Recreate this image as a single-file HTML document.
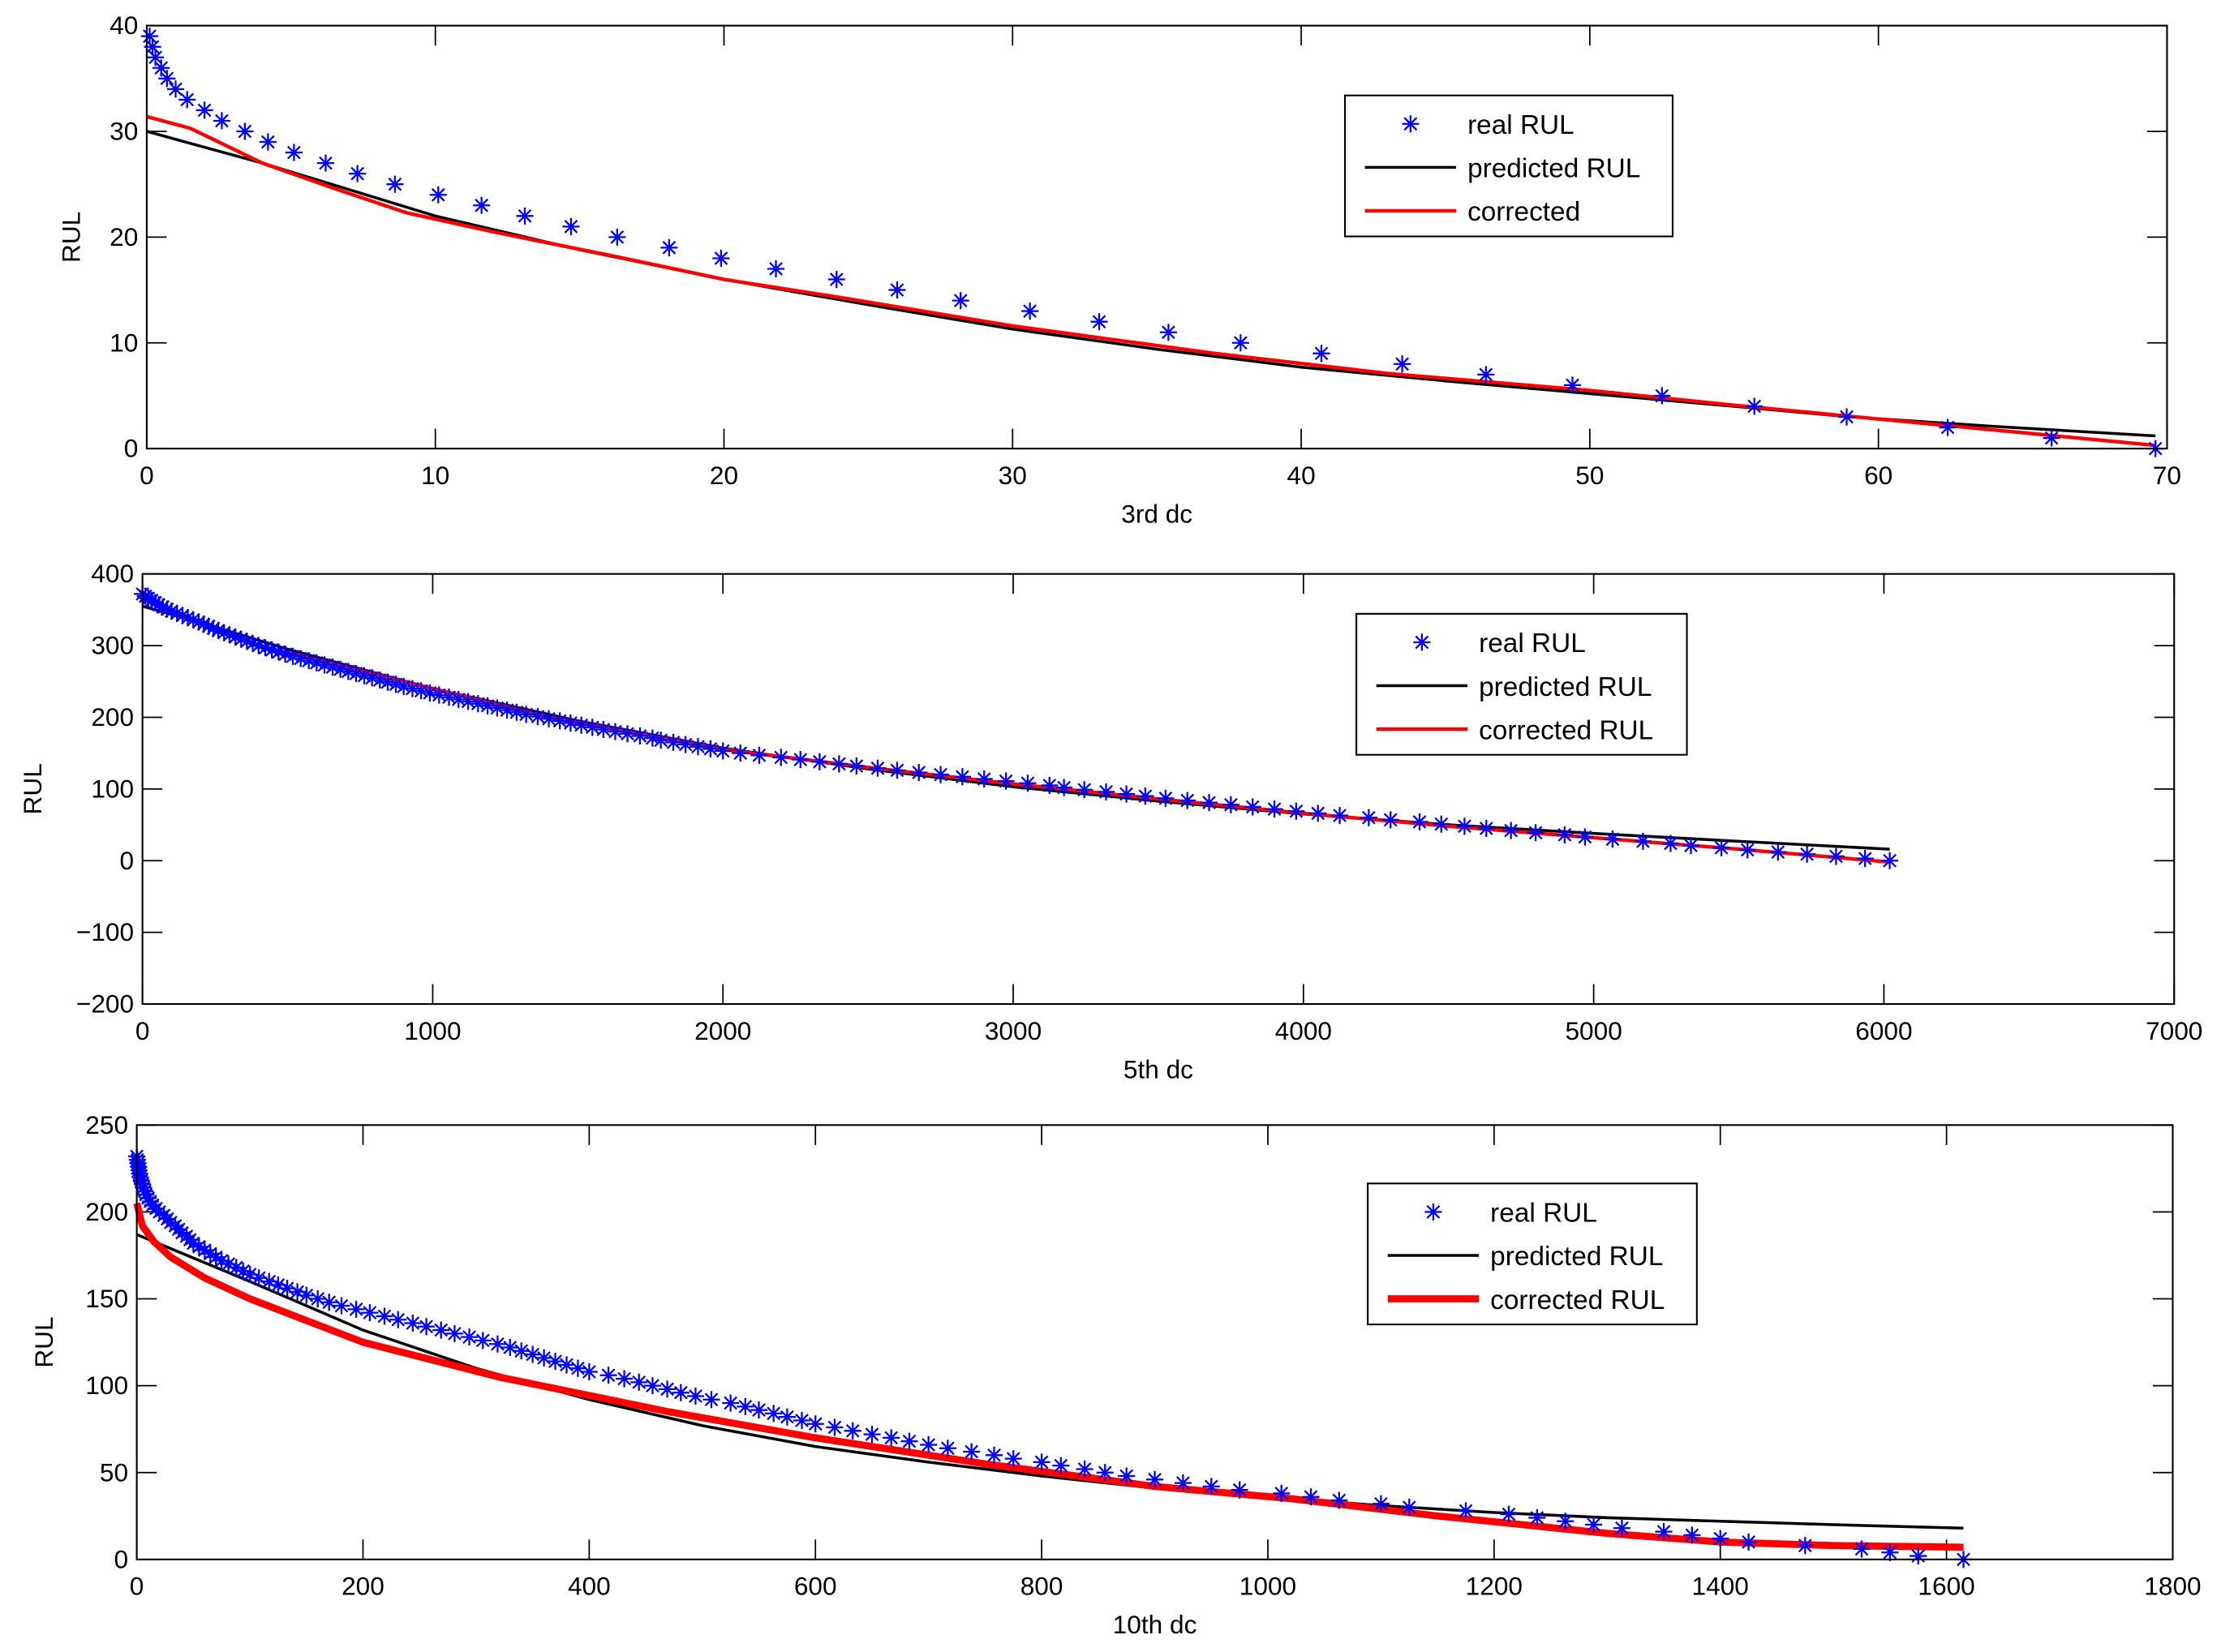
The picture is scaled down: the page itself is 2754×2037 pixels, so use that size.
<!DOCTYPE html>
<html><head><meta charset="utf-8"><style>
html,body{margin:0;padding:0;background:#fff;}
svg{display:block;}
text{font-family:"Liberation Sans",Arial,sans-serif;fill:#000;}
</style></head><body>
<svg id="chart" width="2754" height="2037" viewBox="0 0 1568 1160" preserveAspectRatio="none" xmlns="http://www.w3.org/2000/svg">
<rect x="0" y="0" width="1568" height="1160" fill="#fff"/>
</svg>
<script>
// ---------- Panel 1: 3rd dc ----------
const p1RealX = [0.1,0.2,0.3,0.5,0.7,1.0,1.4,2.0,2.6,3.4,4.2,5.1,6.2,7.3,8.6,10.1,11.6,13.1,14.7,16.3,18.1,19.9,21.8,23.9,26.0,28.2,30.6,33.0,35.4,37.9,40.7,43.5,46.4,49.4,52.5,55.7,58.9,62.4,66.0,69.6];
const p1RealY = [39,38,37,36,35,34,33,32,31,30,29,28,27,26,25,24,23,22,21,20,19,18,17,16,15,14,13,12,11,10,9,8,7,6,5,4,3,2,1,0];
const p1PredX = [0,2,4,7,10,15,20,25,30,35,40,45,50,55,59,64,69.6];
const p1PredY = [30,28.5,27,24.5,22,18.8,16,13.6,11.3,9.4,7.7,6.4,5.2,4.0,3.0,2.1,1.2];
const p1CorrX = [0,1.5,4,6.5,9,12,16,20,24,30,37,43,50,55,60,65,69.6];
const p1CorrY = [31.4,30.3,27,24.6,22.3,20.5,18.3,16,14.3,11.6,9,7.1,5.5,4.1,2.8,1.5,0.3];
const p1XTicks = [0,10,20,30,40,50,60,70];
const p1YTicks = [0,10,20,30,40];

// ---------- Panel 2: 5th dc ----------
const p2RealY = [372,369,366,363,360,357,354,351,348,345,342,339,336,333,330,327,324,321,318,315,312,309,306,303,300,297,294,291,288,285,282,279,276,273,270,267,264,261,258,255,252,249,246,243,240,237,234,231,228,225,222,219,216,213,210,207,204,201,198,195,192,189,186,183,180,177,174,171,168,165,162,159,156,153,150,147,144,141,138,135,132,129,126,123,120,117,114,111,108,105,102,99,96,93,90,87,84,81,78,75,72,69,66,63,60,57,54,51,48,45,42,39,36,33,30,27,24,21,18,15,12,9,6,3,0];
const p2RealX = [0,10,20,32,44,56,70,85,100,119,138,156,175,194,211,228,244,261,281,300,320,340,360,380,400,423,446,469,492,518,545,573,600,627,655,682,709,736,764,791,818,845,873,900,930,960,990,1022,1056,1089,1122,1156,1189,1222,1256,1289,1322,1362,1400,1438,1475,1512,1550,1588,1629,1671,1714,1757,1786,1829,1871,1914,1957,2000,2060,2125,2200,2267,2333,2400,2460,2533,2600,2675,2750,2825,2900,2975,3050,3125,3175,3245,3320,3390,3455,3525,3600,3675,3750,3825,3900,3975,4050,4125,4225,4300,4400,4475,4555,4630,4715,4800,4900,4970,5065,5170,5265,5335,5440,5530,5635,5735,5835,5935,6020];
const p2PredX = [0,200,500,1000,1500,2000,2500,3000,3500,4000,4500,5000,5500,6020];
const p2PredY = [355,332,295,240,195,157,128,103,83,65,50,38,27,16];
const p2CorrX = [0,50,100,200,400,900,1400,2000,2500,3000,3500,4000,4500,5000,5500,6020];
const p2CorrY = [368,355,345,330,300,250,200,155,130,107,86,66,48,32,16,-2];
const p2XTicks = [0,1000,2000,3000,4000,5000,6000,7000];
const p2YTicks = [-200,-100,0,100,200,300,400];

// ---------- Panel 3: 10th dc ----------
const p3RealY = [232,230,228,226,224,222,220,218,216,214,212,210,208,206,204,202,200,198,196,194,192,190,188,186,184,182,180,178,176,174,172,170,168,166,164,162,160,158,156,154,152,150,148,146,144,142,140,138,136,134,132,130,128,126,124,122,120,118,116,114,112,110,108,106,104,102,100,98,96,94,92,90,88,86,84,82,80,78,76,74,72,70,68,66,64,62,60,58,56,54,52,50,48,46,44,42,40,38,36,34,32,30,28,26,24,22,20,18,16,14,12,10,8,6,4,2,0];
const p3RealX = [0,0.5,1,1.5,2,2.5,3,4,5,6,7,8,10,12,14,17,20,24,27,30,34,37,40,44,47,50,55,60,65,70,75,81,88,94,100,108,117,125,133,142,150,160,170,181,194,206,219,231,244,256,269,281,294,306,319,330,340,350,360,370,380,390,400,417,431,444,456,469,481,494,508,525,538,550,563,575,588,600,617,633,650,667,683,700,717,738,758,775,800,817,838,856,875,900,925,950,975,1012,1038,1063,1100,1125,1175,1213,1238,1263,1288,1313,1350,1375,1400,1425,1475,1525,1550,1575,1615];
const p3PredX = [0,100,200,300,400,500,600,700,800,900,1000,1100,1200,1300,1400,1500,1615];
const p3PredY = [187,160,132,110,92,77,65,56,48,41,36,31,27,24,22,20,18];
const p3CorrX = [0,5,15,30,60,100,200,320,470,600,750,900,1020,1150,1300,1400,1500,1615];
const p3CorrY = [205,192,183,174,162,150,125,105,85,70,55,42,35,25,15,10,8,7];
const p3XTicks = [0,200,400,600,800,1000,1200,1400,1600,1800];
const p3YTicks = [0,50,100,150,200,250];

const NS = 'http://www.w3.org/2000/svg';
const svg = document.getElementById('chart');
function mk(tag, attrs, parent){ const e=document.createElementNS(NS,tag); for(const k in attrs) e.setAttribute(k,attrs[k]); (parent||svg).appendChild(e); return e; }

function panel(cfg){
  const g = mk('g',{});
  
  
  const sx = v => cfg.x0 + (v - cfg.xmin)/(cfg.xmax - cfg.xmin)*(cfg.x1 - cfg.x0);
  const sy = v => cfg.y1 - (v - cfg.ymin)/(cfg.ymax - cfg.ymin)*(cfg.y1 - cfg.y0);
  const TL = 14;
  cfg.xTicks.forEach(t=>{
    const x = sx(t);
    mk('line',{x1:x,y1:cfg.y1,x2:x,y2:cfg.y1-TL,stroke:'#000','stroke-width':1},g);
    mk('line',{x1:x,y1:cfg.y0,x2:x,y2:cfg.y0+TL,stroke:'#000','stroke-width':1},g);
    const tx = mk('text',{x:x,y:cfg.y1+25,'font-size':18,'text-anchor':'middle'},g);
    tx.textContent = String(t);
    
    
  });
  cfg.yTicks.forEach(t=>{
    const y = sy(t);
    mk('line',{x1:cfg.x0,y1:y,x2:cfg.x0+TL,y2:y,stroke:'#000','stroke-width':1},g);
    mk('line',{x1:cfg.x1,y1:y,x2:cfg.x1-TL,y2:y,stroke:'#000','stroke-width':1},g);
    const tx = mk('text',{x:cfg.x0-6,y:y+6,'font-size':18,'text-anchor':'end'},g);
    tx.textContent = String(t).replace('-','\u2212');
    
    
  });
  const line = (xs, ys, color, w, nm) => {
    const p = mk('polyline',{points:xs.map((x,i)=>sx(x)+','+sy(ys[i])).join(' '),fill:'none',stroke:color,'stroke-width':w,'stroke-linejoin':'round'},g);
    
    
  };
  line(cfg.predX, cfg.predY, '#000', 2, 'predicted-rul-line');
  line(cfg.corrX, cfg.corrY, '#ff0000', cfg.corrW, 'corrected-rul-line');
  const star = (cx, cy, par) => {
    const r = 6, d = 4.3;
    return mk('path',{d:`M${cx-r},${cy}H${cx+r}M${cx},${cy-r}V${cy+r}M${cx-d},${cy-d}L${cx+d},${cy+d}M${cx-d},${cy+d}L${cx+d},${cy-d}`,stroke:'#0000ff','stroke-width':1.3,fill:'none'},par);
  };
  const sg = mk('g',{},g);
  
  
  cfg.realX.forEach((x,i)=>{
    const s = star(sx(x), sy(cfg.realY[i]), sg);
    
    
  });
  const box = mk('rect',{x:cfg.x0,y:cfg.y0,width:cfg.x1-cfg.x0,height:cfg.y1-cfg.y0,fill:'none',stroke:'#000','stroke-width':1.2},g);
  
  
  const xl = mk('text',{x:(cfg.x0+cfg.x1)/2,y:cfg.y1+52,'font-size':18,'text-anchor':'middle'},g);
  xl.textContent = cfg.xlabel;
  
  
  const yc = (cfg.y0+cfg.y1)/2;
  const yl = mk('text',{x:cfg.ylx,y:yc,'font-size':18,'text-anchor':'middle',transform:`rotate(-90 ${cfg.ylx} ${yc})`},g);
  yl.textContent = 'RUL';
  
  
  const L = cfg.leg;
  const lg = mk('g',{},g);
  
  
  mk('rect',{x:L.x,y:L.y,width:L.w,height:99,fill:'#fff',stroke:'#000','stroke-width':1.2},lg);
  const labels = ['real RUL','predicted RUL',cfg.corrLabel];
  labels.forEach((lab,i)=>{
    const yy = L.y + 20 + i*30.5;
    if(i===0){ star(L.x+46, yy, lg); }
    else { mk('line',{x1:L.x+14,y1:yy,x2:L.x+78,y2:yy,stroke:i===1?'#000':'#ff0000','stroke-width':i===1?2:cfg.corrW},lg); }
    const t = mk('text',{x:L.x+86,y:yy+7,'font-size':19},lg);
    t.textContent = lab;
    
    
  });
}

panel({name:'panel-3rd-dc',x0:103,x1:1521,y0:18,y1:315,xmin:0,xmax:70,ymin:0,ymax:40,
  xTicks:p1XTicks,yTicks:p1YTicks,realX:p1RealX,realY:p1RealY,predX:p1PredX,predY:p1PredY,corrX:p1CorrX,corrY:p1CorrY,
  corrW:2.5,xlabel:'3rd dc',ylx:56,corrLabel:'corrected',leg:{x:944,y:67,w:230}});
panel({name:'panel-5th-dc',x0:100,x1:1526,y0:403,y1:705,xmin:0,xmax:7000,ymin:-200,ymax:400,
  xTicks:p2XTicks,yTicks:p2YTicks,realX:p2RealX,realY:p2RealY,predX:p2PredX,predY:p2PredY,corrX:p2CorrX,corrY:p2CorrY,
  corrW:2.5,xlabel:'5th dc',ylx:29,corrLabel:'corrected RUL',leg:{x:952,y:431,w:232}});
panel({name:'panel-10th-dc',x0:96,x1:1525,y0:790,y1:1095,xmin:0,xmax:1800,ymin:0,ymax:250,
  xTicks:p3XTicks,yTicks:p3YTicks,realX:p3RealX,realY:p3RealY,predX:p3PredX,predY:p3PredY,corrX:p3CorrX,corrY:p3CorrY,
  corrW:5,xlabel:'10th dc',ylx:37,corrLabel:'corrected RUL',leg:{x:960,y:831,w:231}});
</script>
</body></html>
